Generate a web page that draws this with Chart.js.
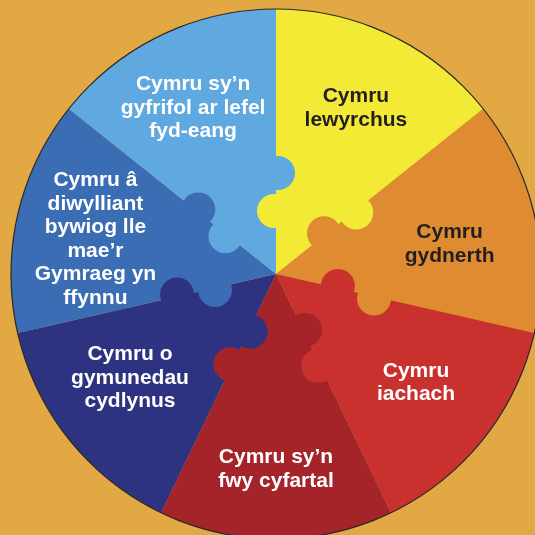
<!DOCTYPE html>
<html>
<head>
<meta charset="utf-8">
<script src="https://cdn.jsdelivr.net/npm/chart.js@4"></script>
<style>
  html, body { margin: 0; padding: 0; background: #E2A844; overflow: hidden; }
  #wrap { width: 560px; height: 560px; }
</style>
</head>
<body>
<div id="wrap"><canvas id="pieChart" width="560" height="560"></canvas></div>
<script>
// Nodau llesiant - 7 darn cyfartal, o'r brig gyda'r cloc
const goals = [
  ["Cymru", "lewyrchus"],
  ["Cymru", "gydnerth"],
  ["Cymru", "iachach"],
  ["Cymru sy\u2019n", "fwy cyfartal"],
  ["Cymru o", "gymunedau", "cydlynus"],
  ["Cymru \u00e2", "diwylliant", "bywiog lle", "mae\u2019r", "Gymraeg yn", "ffynnu"],
  ["Cymru sy\u2019n", "gyfrifol ar lefel", "fyd-eang"]
];
const shares = [1, 1, 1, 1, 1, 1, 1];
const colours = ["#F3EA36", "#DF8B31", "#C9312E", "#A4242A", "#2E3381", "#3A6DB4", "#5FA8E0"];
const textColours = ["#231F20", "#231F20", "#ffffff", "#ffffff", "#ffffff", "#ffffff", "#ffffff"];

// mân addasiadau i leoliad y labeli (px)
const labelNudge = [[0, 0], [-6, 11], [-4, -6], [0, 11], [-2, -11], [-1, 6], [-3, 0]];

// darnau jig-so ar bob ffin + labeli + amlinell
const puzzlePlugin = {
  id: "puzzle",
  afterDatasetsDraw(chart) {
    const ctx = chart.ctx;
    const arcs = chart.getDatasetMeta(0).data;
    const n = arcs.length;
    const cx = arcs[0].x, cy = arcs[0].y, R = arcs[0].outerRadius;
    const knobR = 17, off = 2;

    ctx.save();
    for (let i = 0; i < n; i++) {
      const a = arcs[i].startAngle;
      const prev = (i - 1 + n) % n;
      const ux = Math.cos(a), uy = Math.sin(a);
      const nx = -Math.sin(a), ny = Math.cos(a); // tuag at y darn clocwedd
      // cnap mewnol: y darn clocwedd yn ymwthio i'r darn blaenorol
      let r = 63;
      ctx.fillStyle = colours[i];
      ctx.beginPath();
      ctx.arc(cx + ux * r - nx * off, cy + uy * r - ny * off, knobR, 0, Math.PI * 2);
      ctx.fill();
      // cnap allanol: y darn blaenorol yn ymwthio i'r darn clocwedd
      r = 101;
      ctx.fillStyle = colours[prev];
      ctx.beginPath();
      ctx.arc(cx + ux * r + nx * off, cy + uy * r + ny * off, knobR, 0, Math.PI * 2);
      ctx.fill();
    }

    ctx.font = "bold 21px 'Liberation Sans', Arial, sans-serif";
    ctx.textAlign = "center";
    ctx.textBaseline = "middle";
    const lh = 23.5;
    arcs.forEach((arc, i) => {
      const mid = (arc.startAngle + arc.endAngle) / 2;
      const r = R * 0.695;
      const x = cx + Math.cos(mid) * r + labelNudge[i][0];
      const y = cy + Math.sin(mid) * r + labelNudge[i][1];
      const lines = goals[i];
      ctx.fillStyle = textColours[i];
      lines.forEach((t, k) => {
        ctx.fillText(t, x, y + (k - (lines.length - 1) / 2) * lh);
      });
    });

    ctx.strokeStyle = "#2a2a2a";
    ctx.lineWidth = 1.2;
    ctx.beginPath();
    ctx.arc(cx, cy, R, 0, Math.PI * 2);
    ctx.stroke();
    ctx.restore();
  }
};

new Chart(document.getElementById("pieChart").getContext("2d"), {
  type: "pie",
  data: {
    labels: goals.map(g => g.join(" ")),
    datasets: [{
      data: shares,
      backgroundColor: colours,
      borderWidth: 0,
      hoverOffset: 0
    }]
  },
  options: {
    responsive: false,
    animation: false,
    events: [],
    layout: { padding: { left: 11, top: 9, right: 19, bottom: 21 } },
    plugins: {
      legend: { display: false },
      tooltip: { enabled: false }
    }
  },
  plugins: [puzzlePlugin]
});
</script>
</body>
</html>
